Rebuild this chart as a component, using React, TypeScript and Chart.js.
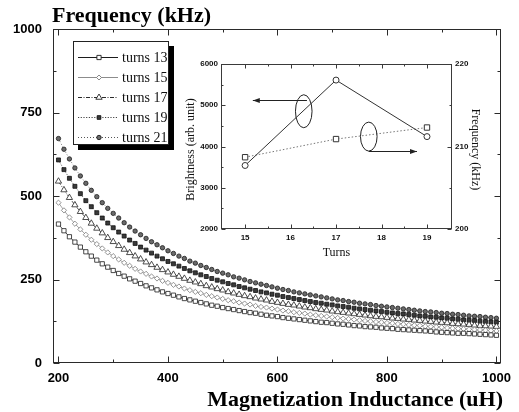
import React, { useEffect, useRef } from 'react';
import { Chart, registerables } from 'chart.js';

Chart.register(...registerables);

// ---------- Main chart data ----------
const INDUCTANCE = [
  200, 210, 220, 230, 240, 250, 260, 270, 280, 290,
  300, 310, 320, 330, 340, 350, 360, 370, 380, 390,
  400, 410, 420, 430, 440, 450, 460, 470, 480, 490,
  500, 510, 520, 530, 540, 550, 560, 570, 580, 590,
  600, 610, 620, 630, 640, 650, 660, 670, 680, 690,
  700, 710, 720, 730, 740, 750, 760, 770, 780, 790,
  800, 810, 820, 830, 840, 850, 860, 870, 880, 890,
  900, 910, 920, 930, 940, 950, 960, 970, 980, 990,
  1000,
];

const TURNS_13 = [
  416, 396, 378, 362, 347, 333, 320, 308, 297, 287,
  277, 268, 260, 252, 245, 238, 231, 225, 219, 213,
  208, 203, 198, 193, 189, 185, 181, 177, 173, 170,
  166, 163, 160, 157, 154, 151, 149, 146, 143, 141,
  139, 136, 134, 132, 130, 128, 126, 124, 122, 121,
  119, 117, 116, 114, 112, 111, 109, 108, 107, 105,
  104, 103, 101, 100, 99, 98, 97, 96, 95, 93,
  92, 91, 90, 89, 89, 88, 87, 86, 85, 84,
  83,
];

const TURNS_15 = [
  480, 457, 436, 417, 400, 384, 369, 356, 343, 331,
  320, 310, 300, 291, 282, 274, 267, 259, 253, 246,
  240, 234, 229, 223, 218, 213, 209, 204, 200, 196,
  192, 188, 185, 181, 178, 175, 171, 168, 166, 163,
  160, 157, 155, 152, 150, 148, 145, 143, 141, 139,
  137, 135, 133, 132, 130, 128, 126, 125, 123, 122,
  120, 119, 117, 116, 114, 113, 112, 110, 109, 108,
  107, 105, 104, 103, 102, 101, 100, 99, 98, 97,
  96,
];

const TURNS_17 = [
  544, 518, 495, 473, 453, 435, 418, 403, 389, 375,
  363, 351, 340, 330, 320, 311, 302, 294, 286, 279,
  272, 265, 259, 253, 247, 242, 237, 231, 227, 222,
  218, 213, 209, 205, 201, 198, 194, 191, 188, 184,
  181, 178, 175, 173, 170, 167, 165, 162, 160, 158,
  155, 153, 151, 149, 147, 145, 143, 141, 139, 138,
  136, 134, 133, 131, 130, 128, 127, 125, 124, 122,
  121, 120, 118, 117, 116, 115, 113, 112, 111, 110,
  109,
];

const TURNS_19 = [
  608, 579, 553, 529, 507, 486, 468, 450, 434, 419,
  405, 392, 380, 368, 358, 347, 338, 329, 320, 312,
  304, 297, 290, 283, 276, 270, 264, 259, 253, 248,
  243, 238, 234, 229, 225, 221, 217, 213, 210, 206,
  203, 199, 196, 193, 190, 187, 184, 181, 179, 176,
  174, 171, 169, 167, 164, 162, 160, 158, 156, 154,
  152, 150, 148, 147, 145, 143, 141, 140, 138, 137,
  135, 134, 132, 131, 129, 128, 127, 125, 124, 123,
  122,
];

const TURNS_21 = [
  672, 640, 611, 584, 560, 538, 517, 498, 480, 463,
  448, 434, 420, 407, 395, 384, 373, 363, 354, 345,
  336, 328, 320, 313, 305, 299, 292, 286, 280, 274,
  269, 264, 258, 254, 249, 244, 240, 236, 232, 228,
  224, 220, 217, 213, 210, 207, 204, 201, 198, 195,
  192, 189, 187, 184, 182, 179, 177, 175, 172, 170,
  168, 166, 164, 162, 160, 158, 156, 154, 153, 151,
  149, 148, 146, 145, 143, 141, 140, 139, 137, 136,
  134,
];

const SERIES = [TURNS_13, TURNS_15, TURNS_17, TURNS_19, TURNS_21];
const SERIES_LABELS = ['turns 13', 'turns 15', 'turns 17', 'turns 19', 'turns 21'];

const X_TICKS = [200, 400, 600, 800, 1000];
const X_MINOR_TICKS = [300, 500, 700, 900];
const Y_TICKS = [0, 250, 500, 750, 1000];
const Y_MINOR_TICKS = [125, 375, 625, 875];

// ---------- Inset data ----------
const INSET_TURNS = [15, 17, 19];
const INSET_BRIGHTNESS = [3540, 5610, 4240];
const INSET_FREQUENCY = [208.7, 210.9, 212.3];
const INSET_X_TICKS = [15, 16, 17, 18, 19];
const INSET_X_MINOR_TICKS = [15.5, 16.5, 17.5, 18.5];
const INSET_Y_TICKS = [2000, 3000, 4000, 5000, 6000];
const INSET_Y_MINOR_TICKS = [2500, 3500, 4500, 5500];
const INSET_Y1_TICKS = [200, 210, 220];
const INSET_Y1_MINOR_TICKS = [205, 215];

// callouts (data-space anchors)
const INSET_CALLOUTS = [
  { axis: 'y', ellipse: { x: 16.29, y: 4855 }, from: { x: 16.36, y: 5136 }, to: { x: 15.17, y: 5136 } },
  { axis: 'y1', ellipse: { x: 17.72, y: 211.2 }, from: { x: 17.72, y: 209.48 }, to: { x: 18.78, y: 209.48 } },
];

// ---------- Styles ----------
const STYLES = [
  { line: '#1c1c1c', dash: [] as number[], point: 'rect', radius: 3.0, fill: '#ffffff', stroke: '#1c1c1c', lr: 3 },
  { line: '#8c8c8c', dash: [] as number[], point: 'rectRot', radius: 2.6, fill: '#ffffff', stroke: '#7a7a7a', lr: 2.5 },
  { line: '#2a2a2a', dash: [4, 1.5, 1, 1.5], point: 'triangle', radius: 3.6, fill: '#ffffff', stroke: '#222222', lr: 3.5 },
  { line: '#444444', dash: [1.2, 1.5], point: 'rect', radius: 2.8, fill: '#3a3a3a', stroke: '#111111', lr: 2.6 },
  { line: '#555555', dash: [1, 2], point: 'circle', radius: 2.2, fill: '#6a6a6a', stroke: '#1e1e1e', lr: 2.2 },
];

const plainNumber = (v: any) => String(v);

function drawMarker(ctx: CanvasRenderingContext2D, style: string, x: number, y: number, r: number) {
  ctx.beginPath();
  if (style === 'rect') {
    const s = r * Math.SQRT1_2;
    ctx.rect(x - s, y - s, 2 * s, 2 * s);
  } else if (style === 'rectRot') {
    ctx.moveTo(x, y - r);
    ctx.lineTo(x + r, y);
    ctx.lineTo(x, y + r);
    ctx.lineTo(x - r, y);
    ctx.closePath();
  } else if (style === 'triangle') {
    const h = r * 1.5;
    ctx.moveTo(x, y - r);
    ctx.lineTo(x + r * 0.9, y + h - r);
    ctx.lineTo(x - r * 0.9, y + h - r);
    ctx.closePath();
  } else {
    ctx.arc(x, y, r, 0, Math.PI * 2);
  }
  ctx.fill();
  ctx.stroke();
}

const mainDecor = {
  id: 'mainDecor',
  afterDraw(chart: any) {
    const { ctx, chartArea: a, scales } = chart;
    const xs = scales.x;
    const ys = scales.y;
    ctx.save();
    ctx.strokeStyle = '#2a2a2a';
    ctx.lineWidth = 1;
    ctx.setLineDash([]);
    const L = Math.round(a.left) + 0.5;
    const R = Math.round(a.right) - 0.5;
    const T = Math.round(a.top) + 0.5;
    const B = Math.round(a.bottom) - 0.5;
    ctx.strokeRect(L, T, R - L, B - T);
    ctx.beginPath();
    const yTick = (v: number, len: number) => {
      const y = Math.round(ys.getPixelForValue(v)) + 0.5;
      ctx.moveTo(L, y); ctx.lineTo(L + len, y);
      ctx.moveTo(R, y); ctx.lineTo(R - len, y);
    };
    const xTick = (v: number, len: number) => {
      const x = Math.round(xs.getPixelForValue(v)) + 0.5;
      ctx.moveTo(x, B); ctx.lineTo(x, B - len);
      ctx.moveTo(x, T); ctx.lineTo(x, T + len);
    };
    Y_TICKS.forEach((v) => yTick(v, 6));
    Y_MINOR_TICKS.forEach((v) => yTick(v, 3));
    X_TICKS.forEach((v) => xTick(v, 6));
    X_MINOR_TICKS.forEach((v) => xTick(v, 3));
    ctx.stroke();

    // titles
    ctx.fillStyle = '#000';
    ctx.font = 'bold 22px "Liberation Serif"';
    ctx.textBaseline = 'alphabetic';
    ctx.textAlign = 'left';
    ctx.fillText('Frequency (kHz)', 52, 22);
    ctx.textAlign = 'right';
    ctx.fillText('Magnetization Inductance (uH)', 503, 406);

    // legend box with shadow
    const bx = 73, by = 41, bw = 96, bh = 104;
    ctx.fillStyle = '#000';
    ctx.fillRect(bx + 5, by + 5, bw, bh);
    ctx.fillStyle = '#fff';
    ctx.fillRect(bx, by, bw, bh);
    ctx.strokeStyle = '#222';
    ctx.lineWidth = 1;
    ctx.strokeRect(bx + 0.5, by + 0.5, bw - 1, bh - 1);

    ctx.font = '14px "Liberation Serif"';
    ctx.textAlign = 'left';
    ctx.textBaseline = 'middle';
    SERIES_LABELS.forEach((label, i) => {
      const st = STYLES[i];
      const y = 57 + i * 20;
      ctx.strokeStyle = st.line;
      ctx.lineWidth = 1;
      ctx.setLineDash(st.dash);
      ctx.beginPath();
      ctx.moveTo(78, y + 0.5);
      ctx.lineTo(118, y + 0.5);
      ctx.stroke();
      ctx.setLineDash([]);
      ctx.fillStyle = st.fill;
      ctx.strokeStyle = st.stroke;
      ctx.lineWidth = 0.9;
      drawMarker(ctx, st.point, 99, y + 0.5, st.lr);
      ctx.fillStyle = '#111';
      ctx.fillText(label, 122, y + 1);
    });
    ctx.restore();
  },
};

const insetDecor = {
  id: 'insetDecor',
  afterDraw(chart: any) {
    const { ctx, chartArea: a, scales } = chart;
    const xs = scales.x;
    const ys = scales.y;
    const y1 = scales.y1;
    ctx.save();
    ctx.strokeStyle = '#3a3a3a';
    ctx.lineWidth = 1;
    const L = Math.round(a.left) + 0.5;
    const R = Math.round(a.right) - 0.5;
    const T = Math.round(a.top) + 0.5;
    const B = Math.round(a.bottom) - 0.5;
    ctx.strokeRect(L, T, R - L, B - T);
    ctx.beginPath();
    const left = (v: number, len: number) => {
      const y = Math.round(ys.getPixelForValue(v)) + 0.5;
      ctx.moveTo(L, y); ctx.lineTo(L + len, y);
    };
    const right = (v: number, len: number) => {
      const y = Math.round(y1.getPixelForValue(v)) + 0.5;
      ctx.moveTo(R, y); ctx.lineTo(R - len, y);
    };
    const xTick = (v: number, len: number) => {
      const x = Math.round(xs.getPixelForValue(v)) + 0.5;
      ctx.moveTo(x, B); ctx.lineTo(x, B - len);
      ctx.moveTo(x, T); ctx.lineTo(x, T + len);
    };
    INSET_Y_TICKS.forEach((v) => left(v, 4));
    INSET_Y_MINOR_TICKS.forEach((v) => left(v, 2));
    INSET_Y1_TICKS.forEach((v) => right(v, 4));
    INSET_Y1_MINOR_TICKS.forEach((v) => right(v, 2));
    INSET_X_TICKS.forEach((v) => xTick(v, 4));
    INSET_X_MINOR_TICKS.forEach((v) => xTick(v, 2));
    ctx.stroke();

    // callouts
    ctx.strokeStyle = '#222';
    ctx.fillStyle = '#222';
    ctx.lineWidth = 1;
    INSET_CALLOUTS.forEach((c) => {
      const sy = c.axis === 'y' ? ys : y1;
      const ex = xs.getPixelForValue(c.ellipse.x);
      const ey = sy.getPixelForValue(c.ellipse.y);
      ctx.beginPath();
      ctx.ellipse(ex, ey, 8.3, c.axis === 'y' ? 16.5 : 14.5, 0, 0, Math.PI * 2);
      ctx.stroke();
      const fx = xs.getPixelForValue(c.from.x);
      const fy = Math.round(sy.getPixelForValue(c.from.y)) + 0.5;
      const tx = xs.getPixelForValue(c.to.x);
      ctx.beginPath();
      ctx.moveTo(fx, fy);
      ctx.lineTo(tx, fy);
      ctx.stroke();
      const dir = tx < fx ? -1 : 1;
      ctx.beginPath();
      ctx.moveTo(tx, fy);
      ctx.lineTo(tx - dir * 7, fy - 2.5);
      ctx.lineTo(tx - dir * 7, fy + 2.5);
      ctx.closePath();
      ctx.fill();
    });

    // axis titles
    ctx.fillStyle = '#111';
    ctx.font = '12px "Liberation Serif"';
    ctx.textAlign = 'center';
    ctx.textBaseline = 'middle';
    const midY = (a.top + a.bottom) / 2;
    ctx.save();
    ctx.translate(15.7, midY + 3);
    ctx.rotate(-Math.PI / 2);
    ctx.fillText('Brightness (arb. unit)', 0, 0);
    ctx.restore();
    ctx.save();
    ctx.translate(300, midY + 3);
    ctx.rotate(Math.PI / 2);
    ctx.fillText('Frequency (kHz)', 0, 0);
    ctx.restore();
    ctx.fillText('Turns', (a.left + a.right) / 2, 198);
    ctx.restore();
  },
};

export default function App() {
  const mainRef = useRef<HTMLCanvasElement>(null);
  const insetRef = useRef<HTMLCanvasElement>(null);

  useEffect(() => {
    document.body.style.margin = '0';
    const tickFont = { family: '"Liberation Sans", Arial, sans-serif', size: 13, weight: 'bold' as const };
    const main = new Chart(mainRef.current as HTMLCanvasElement, {
      type: 'line',
      data: {
        datasets: SERIES.map((s, i) => ({
          label: SERIES_LABELS[i],
          data: INDUCTANCE.map((x, j) => ({ x, y: s[j] })),
          borderColor: STYLES[i].line,
          borderWidth: 0.8,
          borderDash: STYLES[i].dash,
          pointStyle: STYLES[i].point as any,
          pointRadius: STYLES[i].radius,
          pointBackgroundColor: STYLES[i].fill,
          pointBorderColor: STYLES[i].stroke,
          pointBorderWidth: 0.8,
          fill: false,
          tension: 0,
        })),
      },
      options: {
        animation: false,
        responsive: false,
        maintainAspectRatio: false,
        events: [],
        layout: { padding: { top: 29, right: 12, left: 0, bottom: 0 } },
        plugins: { legend: { display: false }, tooltip: { enabled: false }, title: { display: false } },
        scales: {
          x: {
            type: 'linear',
            min: 190,
            max: 1009,
            afterBuildTicks: (s: any) => { s.ticks = X_TICKS.map((v) => ({ value: v })); },
            afterFit: (s: any) => { s.height = 49; },
            grid: { display: false, drawTicks: false },
            border: { display: false },
            ticks: { font: tickFont, color: '#000', padding: 8, maxRotation: 0, autoSkip: false, callback: plainNumber },
          },
          y: {
            type: 'linear',
            min: 0,
            max: 1000,
            afterBuildTicks: (s: any) => { s.ticks = Y_TICKS.map((v) => ({ value: v })); },
            afterFit: (s: any) => { s.width = 53; },
            grid: { display: false, drawTicks: false },
            border: { display: false },
            ticks: { font: tickFont, color: '#000', padding: 11, callback: plainNumber },
          },
        },
      },
      plugins: [mainDecor],
    } as any);

    const insetFont = { family: '"Liberation Sans", Arial, sans-serif', size: 8, weight: 'bold' as const };
    const inset = new Chart(insetRef.current as HTMLCanvasElement, {
      type: 'line',
      data: {
        datasets: [
          {
            label: 'Brightness',
            data: INSET_TURNS.map((x, i) => ({ x, y: INSET_BRIGHTNESS[i] })),
            yAxisID: 'y',
            borderColor: '#333',
            borderWidth: 1,
            pointStyle: 'circle',
            pointRadius: 3,
            pointBackgroundColor: '#fff',
            pointBorderColor: '#333',
            pointBorderWidth: 1,
            tension: 0,
          },
          {
            label: 'Frequency',
            data: INSET_TURNS.map((x, i) => ({ x, y: INSET_FREQUENCY[i] })),
            yAxisID: 'y1',
            borderColor: '#777',
            borderWidth: 1,
            borderDash: [1.5, 2],
            pointStyle: 'rect',
            pointRadius: 3.8,
            pointBackgroundColor: '#fff',
            pointBorderColor: '#333',
            pointBorderWidth: 1,
            tension: 0,
          },
        ],
      },
      options: {
        animation: false,
        responsive: false,
        maintainAspectRatio: false,
        events: [],
        layout: { padding: { top: 9, right: 0, left: 0, bottom: 0 } },
        plugins: { legend: { display: false }, tooltip: { enabled: false } },
        scales: {
          x: {
            type: 'linear',
            min: 14.47,
            max: 19.55,
            afterBuildTicks: (s: any) => { s.ticks = INSET_X_TICKS.map((v) => ({ value: v })); },
            afterFit: (s: any) => { s.height = 36; },
            grid: { display: false, drawTicks: false },
            border: { display: false },
            ticks: { font: insetFont, color: '#111', padding: 4, maxRotation: 0, autoSkip: false, callback: plainNumber },
          },
          y: {
            type: 'linear',
            position: 'left',
            min: 2000,
            max: 6000,
            afterBuildTicks: (s: any) => { s.ticks = INSET_Y_TICKS.map((v) => ({ value: v })); },
            afterFit: (s: any) => { s.width = 46; },
            grid: { display: false, drawTicks: false },
            border: { display: false },
            ticks: { font: insetFont, color: '#111', padding: 3, callback: plainNumber },
          },
          y1: {
            type: 'linear',
            position: 'right',
            min: 200,
            max: 220,
            afterBuildTicks: (s: any) => { s.ticks = INSET_Y1_TICKS.map((v) => ({ value: v })); },
            afterFit: (s: any) => { s.width = 43; },
            grid: { display: false, drawTicks: false },
            border: { display: false },
            ticks: { font: insetFont, color: '#111', padding: 3, callback: plainNumber },
          },
        },
      },
      plugins: [insetDecor],
    } as any);

    return () => {
      main.destroy();
      inset.destroy();
    };
  }, []);

  return (
    <div style={{ position: 'absolute', left: 0, top: 0, width: 519, height: 412, background: '#fff' }}>
      <canvas ref={mainRef} width={519} height={412} style={{ position: 'absolute', left: 0, top: 0 }} />
      <canvas ref={insetRef} width={320} height={210} style={{ position: 'absolute', left: 175, top: 55 }} />
    </div>
  );
}
